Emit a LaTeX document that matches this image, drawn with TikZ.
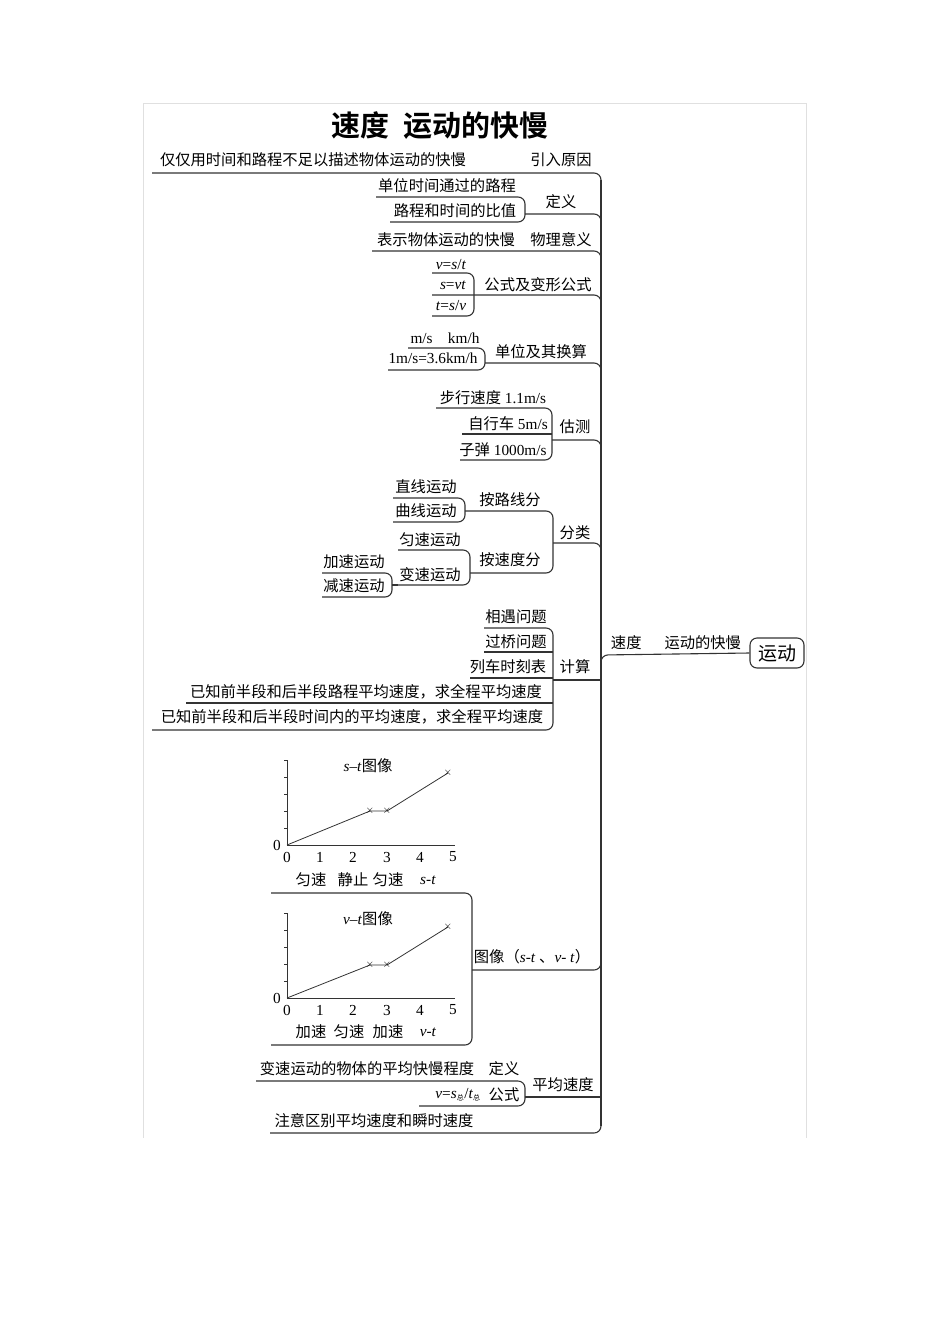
\documentclass[tikz,border=0pt]{standalone}
\usepackage{fontspec}
\setmainfont{Liberation Serif}
\newfontfamily\cjk{Noto Sans CJK SC}
\newfontfamily\cjkb{Noto Sans CJK SC Bold}
\newcommand\zh[1]{{\cjk #1}}
\begin{document}
\begin{tikzpicture}[x=1pt,y=-1pt,
  t/.style={inner sep=0pt,font=\fontsize{15.3}{17}\selectfont},
  br/.style={line width=1.1pt,draw=black!80,rounded corners=7pt},
  ax/.style={line width=0.8pt,draw=black!80},
  fr/.style={draw=black!12,line width=0.8pt}]
\useasboundingbox (0,0) rectangle (950,1344);
% frame
\draw[fr] (143,1138) -- (143,103) -- (806,103) -- (806,1138);
\node[inner sep=0pt,font=\cjkb\fontsize{29}{32}\selectfont] (title) at (440,126) {速度\hspace{0.5em}运动的快慢};
% trunk
\draw[br] (601,180) -- (601,1126);
% 1 引入原因
\node[t] (a1) at (313,160) {\zh{仅仅用时间和路程不足以描述物体运动的快慢}};
\node[t] (a2) at (561,160) {\zh{引入原因}};
\draw[br] (152,173) -- (601,173) -- (601,190);
% 2 定义
\node[t] (b1) at (447,186) {\zh{单位时间通过的路程}};
\node[t] (b2) at (455,211) {\zh{路程和时间的比值}};
\node[t] (b3) at (561,202) {\zh{定义}};
\draw[br] (376,197) -- (525,197) -- (525,222) -- (390,222);
\draw[br] (525,214) -- (601,214) -- (601,228);
% 3 物理意义
\node[t] (c1) at (446,240) {\zh{表示物体运动的快慢}};
\node[t] (c2) at (561,240) {\zh{物理意义}};
\draw[br] (372,251) -- (601,251) -- (601,266);
% 4 公式
\node[t] (d1) at (451,265) {\textit{v}=\textit{s}/\textit{t}};
\node[t] (d2) at (453,285) {\textit{s}=\textit{vt}};
\node[t] (d3) at (451,306) {\textit{t}=\textit{s}/\textit{v}};
\node[t] (d4) at (538,285) {\zh{公式及变形公式}};
\draw[br] (432,273) -- (474,273) -- (474,316) -- (432,316);
\draw[br] (432,295) -- (474,295) -- (601,295) -- (601,310);
% 5 单位
\node[t] (e1) at (445,338) {m/s\hspace{1em}km/h};
\node[t] (e2) at (433,358) {1m/s=3.6km/h};
\node[t] (e3) at (541,352) {\zh{单位及其换算}};
\draw[br] (408,348) -- (485,348) -- (485,370) -- (388,370);
\draw[br] (485,363) -- (601,363) -- (601,378);
% 6 估测
\node[t] (f1) at (493,398) {\zh{步行速度} 1.1m/s};
\node[t] (f2) at (508,424) {\zh{自行车} 5m/s};
\node[t] (f3) at (503,450) {\zh{子弹} 1000m/s};
\node[t] (f4) at (575,427) {\zh{估测}};
\draw[br] (436,408) -- (552,408) -- (552,460) -- (460,460);
\draw[br] (462,434) -- (552,434);
\draw[br] (552,440) -- (601,440) -- (601,455);
% 7 分类
\node[t] (g1) at (426,487) {\zh{直线运动}};
\node[t] (g2) at (426,511) {\zh{曲线运动}};
\node[t] (g3) at (510,500) {\zh{按路线分}};
\node[t] (g4) at (430,540) {\zh{匀速运动}};
\node[t] (g5) at (430,575) {\zh{变速运动}};
\node[t] (g6) at (510,560) {\zh{按速度分}};
\node[t] (g7) at (354,562) {\zh{加速运动}};
\node[t] (g8) at (354,586) {\zh{减速运动}};
\node[t] (g9) at (575,533) {\zh{分类}};
\draw[br] (393,498) -- (465,498) -- (465,522) -- (393,522);
\draw[br] (465,511) -- (553,511) -- (553,573) -- (470,573);
\draw[br] (398,550) -- (470,550) -- (470,585) -- (398,585);
\draw[br] (322,573) -- (392,573) -- (392,597) -- (322,597);
\draw[br] (392,585) -- (398,585);
\draw[br] (553,543) -- (601,543) -- (601,558);
% 8 计算
\node[t] (h1) at (516,617) {\zh{相遇问题}};
\node[t] (h2) at (516,642) {\zh{过桥问题}};
\node[t] (h3) at (508,667) {\zh{列车时刻表}};
\node[t] (h4) at (366,692) {\zh{已知前半段和后半段路程平均速度，求全程平均速度}};
\node[t] (h5) at (352,717) {\zh{已知前半段和后半段时间内的平均速度，求全程平均速度}};
\node[t] (h6) at (575,667) {\zh{计算}};
\draw[br] (484,628) -- (553,628) -- (553,730) -- (152,730);
\draw[br] (484,652) -- (553,652);
\draw[br] (470,678) -- (553,678);
\draw[br] (186,703) -- (553,703);
\draw[br] (553,680) -- (601,680);
% central
\node[t] (m1) at (676,643) {\zh{速度}\hspace{1.5em}\zh{运动的快慢}};
\node[draw=black!80,line width=1.1pt,rounded corners=7pt,minimum width=54pt,minimum height=30pt,inner sep=0pt,font=\cjk\fontsize{19}{20}\selectfont] (root) at (777,653) {运动};
\draw[br] (601,680) -- (601,655) -- (root.west);
% s-t plot
\node[t] (p1) at (368,766) {\textit{s}--\textit{t}\zh{图像}};
\draw[ax] (287,760) -- (287,845) -- (455,845);
\foreach \yy in {760,777,794,811,828} \draw[ax] (284,\yy) -- (287,\yy);
\draw[ax] (287,845) -- (370,811) -- (387,811) -- (448,773);
\foreach \px/\py in {370/811,387/811,448/773} \node[t,font=\fontsize{11}{11}\selectfont] at (\px,\py) {$\times$};
\node[t] at (277,845) {0};
\foreach \xx/\lb in {287/0,320/1,353/2,387/3,420/4,453/5} \node[t] at (\xx,857) {\lb};
\node[t] at (311,880) {\zh{匀速}};
\node[t] at (353,880) {\zh{静止}};
\node[t] at (388,880) {\zh{匀速}};
\node[t] at (428,880) {\textit{s}-\textit{t}};
% v-t plot
\node[t] (p2) at (368,919) {\textit{v}--\textit{t}\zh{图像}};
\draw[ax] (287,913) -- (287,998) -- (455,998);
\foreach \yy in {913,930,947,964,981} \draw[ax] (284,\yy) -- (287,\yy);
\draw[ax] (287,998) -- (370,965) -- (387,965) -- (448,927);
\foreach \px/\py in {370/965,387/965,448/927} \node[t,font=\fontsize{11}{11}\selectfont] at (\px,\py) {$\times$};
\node[t] at (277,998) {0};
\foreach \xx/\lb in {287/0,320/1,353/2,387/3,420/4,453/5} \node[t] at (\xx,1010) {\lb};
\node[t] at (311,1032) {\zh{加速}};
\node[t] at (349,1032) {\zh{匀速}};
\node[t] at (388,1032) {\zh{加速}};
\node[t] at (428,1032) {\textit{v}-\textit{t}};
\node[t] (p3) at (532,957) {\zh{图像（}\textit{s}-\textit{t} \zh{、}\textit{v}- \textit{t}\zh{）}};
\draw[br] (271,893) -- (472,893) -- (472,1045) -- (271,1045);
\draw[br] (472,970) -- (601,970) -- (601,955);
% 平均速度
\node[t] (q1) at (367,1069) {\zh{变速运动的物体的平均快慢程度}};
\node[t] (q2) at (504,1069) {\zh{定义}};
\node[t] (q3) at (458,1095) {\textit{v}=\textit{s}$_{\mbox{\scriptsize\zh{总}}}$/\textit{t}$_{\mbox{\scriptsize\zh{总}}}$};
\node[t] (q4) at (504,1095) {\zh{公式}};
\node[t] (q5) at (563,1085) {\zh{平均速度}};
\draw[br] (256,1081) -- (525,1081) -- (525,1106) -- (419,1106);
\draw[br] (525,1097) -- (601,1097);
\node[t] (q6) at (374,1121) {\zh{注意区别平均速度和瞬时速度}};
\draw[br] (270,1133) -- (601,1133) -- (601,1115);
\end{tikzpicture}
\end{document}
